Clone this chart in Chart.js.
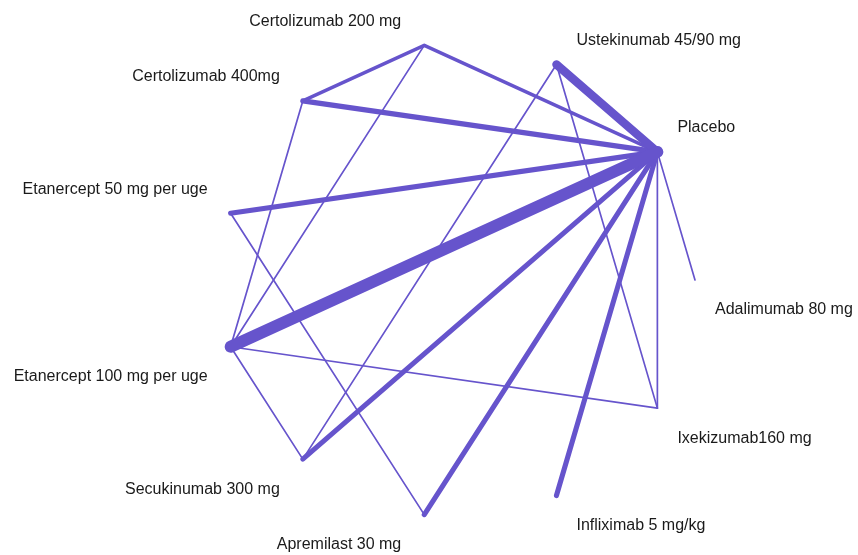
<!DOCTYPE html>
<html>
<head>
<meta charset="utf-8">
<script src="https://cdn.jsdelivr.net/npm/chart.js@4"></script>
<style>
  html, body { margin: 0; padding: 0; background: #fff; }
  #wrap { width: 858px; height: 555px; position: relative; }
</style>
</head>
<body>
<div id="wrap"><canvas id="netgraph"></canvas></div>
<script>
// behandlinger, i rækkefølge rundt om cirklen (start kl. 3, mod uret)
const behandlinger = [
    'Adalimumab 80 mg',
    'Placebo',
    'Ustekinumab 45/90 mg',
    'Certolizumab 200 mg',
    'Certolizumab 400mg',
    'Etanercept 50 mg per uge',
    'Etanercept 100 mg per uge',
    'Secukinumab 300 mg',
    'Apremilast 30 mg',
    'Infliximab 5 mg/kg',
    'Ixekizumab160 mg'
];

// direkte sammenligninger (indeks i behandlinger) og antal studier
const fra     = [1, 1, 1, 1, 1, 1, 1, 1, 1, 1, 3, 3, 4, 2, 2, 5, 6, 6];
const til     = [6, 2, 4, 3, 5, 7, 8, 9, 10, 0, 4, 6, 6, 7, 10, 8, 10, 7];
const studier = [7, 5, 3, 2, 3, 3, 3, 3, 1, 1, 2, 1, 1, 1, 1, 1, 1, 1];

const farve = '#6654cc';
const n = behandlinger.length;
const vinkel = i => i * 2 * Math.PI / n;
const punkt = i => ({ x: Math.cos(vinkel(i)), y: Math.sin(vinkel(i)) });

const datasets = fra.map((f, k) => ({
    data: [punkt(f), punkt(til[k])],
    showLine: true,
    borderColor: farve,
    borderWidth: studier[k] * 1.7,
    borderCapStyle: 'round',
    pointRadius: 0,
    pointHoverRadius: 0,
    fill: false
}));

// navne ved knuderne
const navnePlugin = {
    id: 'navne',
    afterDatasetsDraw(chart) {
        const ctx = chart.ctx;
        const sx = chart.scales.x, sy = chart.scales.y;
        ctx.save();
        ctx.font = '16px "Liberation Sans", Arial, sans-serif';
        ctx.fillStyle = '#1a1a1a';
        ctx.textBaseline = 'middle';
        behandlinger.forEach((navn, i) => {
            const p = punkt(i);
            const px = sx.getPixelForValue(p.x);
            const py = sy.getPixelForValue(p.y);
            const hoejre = p.x > 0;
            ctx.textAlign = hoejre ? 'left' : 'right';
            const tx = px + (hoejre ? 20 : -23);
            const ty = py + (p.y > 0.05 ? -24 : 30);
            ctx.fillText(navn, tx, ty);
        });
        ctx.restore();
    }
};

// radius 237 px, centrum (458, 280) i et 858x555 lærred
const r = 237;
new Chart(document.getElementById('netgraph'), {
    type: 'scatter',
    data: { datasets },
    options: {
        responsive: true,
        maintainAspectRatio: false,
        animation: false,
        layout: { padding: 0 },
        scales: {
            x: { display: false, min: -458 / r, max: (858 - 458) / r },
            y: { display: false, min: -(555 - 280) / r, max: 280 / r }
        },
        plugins: { legend: { display: false }, tooltip: { enabled: false } }
    },
    plugins: [navnePlugin]
});
</script>
</body>
</html>
